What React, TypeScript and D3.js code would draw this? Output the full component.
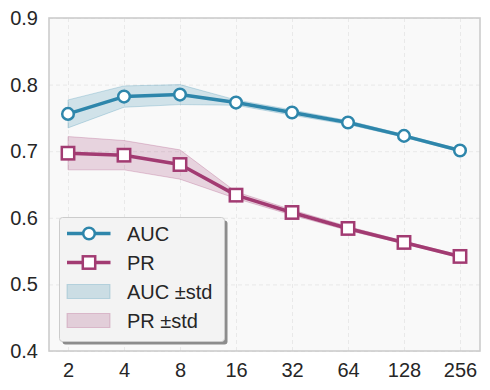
import React from "react";
import * as d3 from "d3";

// data
const sizes = ["2", "4", "8", "16", "32", "64", "128", "256"];
const aucMean = [0.756, 0.782, 0.785, 0.773, 0.758, 0.743, 0.723, 0.701];
const aucStd = [0.021, 0.016, 0.015, 0.004, 0.004, 0.003, 0.002, 0.002];
const prMean = [0.697, 0.694, 0.68, 0.634, 0.608, 0.584, 0.563, 0.542];
const prStd = [0.025, 0.022, 0.022, 0.005, 0.004, 0.003, 0.002, 0.002];
const yTicks = [0.4, 0.5, 0.6, 0.7, 0.8, 0.9];

const AUC_COLOR = "#2E86AB";
const PR_COLOR = "#A23B72";
const FONT = "'Liberation Sans', Arial, sans-serif";

const App = () => {
    const svgRef = React.useRef<SVGSVGElement>(null);
    const W = 490, H = 390;
    const margin = { top: 18, right: 10, bottom: 39, left: 49 };
    const width = W - margin.left - margin.right;
    const height = H - margin.top - margin.bottom;

    React.useEffect(() => {
        const x = d3.scalePoint().domain(sizes).range([19, width - 20]);
        const y = d3.scaleLinear().domain([0.4, 0.9]).range([height, 0]);

        const svgEl = d3.select(svgRef.current);
        svgEl.selectAll("*").remove();

        const svg = svgEl.append("g").attr("transform", `translate(${margin.left},${margin.top})`);

        // axes face
        svg.append("rect").attr("width", width).attr("height", height).attr("fill", "#f9f9f9");

        // grid
        const xGrid = svg.append("g").attr("transform", `translate(0,${height})`)
            .call(d3.axisBottom(x).tickSize(-height).tickFormat(() => ""));
        xGrid.select(".domain").remove();
        xGrid.selectAll("line").attr("stroke", "#e4e4e4").attr("stroke-dasharray", "4,3").attr("stroke-width", 0.8);

        const yGrid = svg.append("g")
            .call(d3.axisLeft(y).tickValues(yTicks).tickSize(-width).tickFormat(() => ""));
        yGrid.select(".domain").remove();
        yGrid.selectAll("line").attr("stroke", "#e4e4e4").attr("stroke-dasharray", "4,3").attr("stroke-width", 0.8);

        // std bands
        const band = (mean: number[], std: number[]) =>
            d3.area<number>()
                .x((_, i) => x(sizes[i])!)
                .y0((d, i) => y(d - std[i]))
                .y1((d, i) => y(d + std[i]))(mean)!;
        svg.append("path").attr("d", band(aucMean, aucStd)).attr("fill", AUC_COLOR).attr("fill-opacity", 0.2)
            .attr("stroke", AUC_COLOR).attr("stroke-opacity", 0.25);
        svg.append("path").attr("d", band(prMean, prStd)).attr("fill", PR_COLOR).attr("fill-opacity", 0.2)
            .attr("stroke", PR_COLOR).attr("stroke-opacity", 0.25);

        const line = d3.line<number>().x((_, i) => x(sizes[i])!).y((d) => y(d));

        // AUC
        svg.append("path").attr("d", line(aucMean)!).attr("fill", "none")
            .attr("stroke", AUC_COLOR).attr("stroke-width", 3.5).attr("stroke-linejoin", "round");
        svg.selectAll(".auc").data(aucMean).enter().append("circle")
            .attr("cx", (_, i) => x(sizes[i])!).attr("cy", (d) => y(d)).attr("r", 5.8)
            .attr("fill", "white").attr("stroke", AUC_COLOR).attr("stroke-width", 2.5);

        // PR
        svg.append("path").attr("d", line(prMean)!).attr("fill", "none")
            .attr("stroke", PR_COLOR).attr("stroke-width", 3.5).attr("stroke-linejoin", "round");
        svg.selectAll(".pr").data(prMean).enter().append("rect")
            .attr("x", (_, i) => x(sizes[i])! - 6.2).attr("y", (d) => y(d) - 6.2)
            .attr("width", 12.4).attr("height", 12.4)
            .attr("fill", "white").attr("stroke", PR_COLOR).attr("stroke-width", 2.5);

        // spines
        svg.append("rect").attr("width", width).attr("height", height).attr("fill", "none")
            .attr("stroke", "#cccccc").attr("stroke-width", 1.6);

        // tick labels
        const xAxis = svg.append("g").attr("transform", `translate(0,${height})`)
            .call(d3.axisBottom(x).tickSize(0).tickPadding(12));
        xAxis.select(".domain").remove();
        xAxis.selectAll("text").attr("fill", "#262626").attr("font-size", 20).attr("font-family", FONT)
            .attr("dy", "0.71em");

        const yAxis = svg.append("g")
            .call(d3.axisLeft(y).tickValues(yTicks).tickSize(0).tickPadding(11).tickFormat(d3.format(".1f")));
        yAxis.select(".domain").remove();
        yAxis.selectAll("text").attr("fill", "#262626").attr("font-size", 20).attr("font-family", FONT);

        // legend with hard shadow
        const lg = svgEl.append("g").attr("transform", "translate(59.5,217.5)");
        lg.append("rect").attr("x", 3).attr("y", 3).attr("width", 165).attr("height", 124).attr("rx", 3)
            .attr("fill", "#8c8c8c");
        lg.append("rect").attr("width", 165).attr("height", 124).attr("rx", 3)
            .attr("fill", "#f3f3f3").attr("stroke", "#cccccc").attr("stroke-width", 1);
        const items = [
            { label: "AUC", kind: "circle", color: AUC_COLOR },
            { label: "PR", kind: "square", color: PR_COLOR },
            { label: "AUC ±std", kind: "patch", color: AUC_COLOR },
            { label: "PR ±std", kind: "patch", color: PR_COLOR },
        ];
        items.forEach((it, i) => {
            const cy = 16 + i * 29;
            const g = lg.append("g").attr("transform", `translate(0,${cy})`);
            if (it.kind === "patch") {
                g.append("rect").attr("x", 7.5).attr("y", -7).attr("width", 43).attr("height", 14)
                    .attr("fill", it.color).attr("fill-opacity", 0.2).attr("stroke", it.color).attr("stroke-opacity", 0.25);
            } else {
                g.append("line").attr("x1", 7.5).attr("x2", 51).attr("y1", 0).attr("y2", 0)
                    .attr("stroke", it.color).attr("stroke-width", 3.5);
                if (it.kind === "circle") {
                    g.append("circle").attr("cx", 29.5).attr("cy", 0).attr("r", 5.8)
                        .attr("fill", "white").attr("stroke", it.color).attr("stroke-width", 2.5);
                } else {
                    g.append("rect").attr("x", 23.3).attr("y", -6.2).attr("width", 12.4).attr("height", 12.4)
                        .attr("fill", "white").attr("stroke", it.color).attr("stroke-width", 2.5);
                }
            }
            g.append("text").attr("x", 67.5).attr("y", 0).attr("dy", "0.36em")
                .attr("fill", "#262626").attr("font-size", 20).attr("font-family", FONT).text(it.label);
        });
    }, []);

    return (
        <svg ref={svgRef} width={W} height={H}
            style={{ position: "absolute", left: 0, top: 0, background: "white" }} />
    );
};

export default App;
